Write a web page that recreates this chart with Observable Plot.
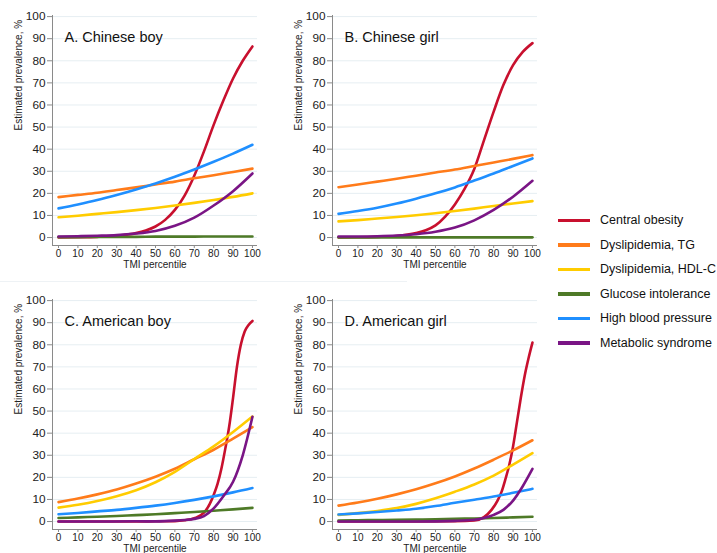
<!DOCTYPE html>
<html>
<head>
<meta charset="utf-8">
<script src="https://cdn.jsdelivr.net/npm/d3@7"></script>
<script src="https://cdn.jsdelivr.net/npm/@observablehq/plot@0.6"></script>
<style>
  body { margin: 0; background: #fff; font-family: "Liberation Sans", Arial, sans-serif; }
  #wrap { position: relative; width: 717px; height: 553px; overflow: hidden; }
  .panel { position: absolute; }
  #legend { position: absolute; left: 558px; top: 208px; }
  .lg { display: flex; align-items: center; height: 24.5px; font-size: 12.5px; color: #111; }
  .sw { width: 32px; height: 3.5px; margin-right: 10px; }
  #faint { position: absolute; left: 0; top: 281px; width: 407px; height: 1px; background: #eef2f5; }
</style>
</head>
<body>
<div id="wrap">
  <div id="faint"></div>
  <div id="pA" class="panel" style="left:0px;top:0px"></div>
  <div id="pB" class="panel" style="left:280px;top:0px"></div>
  <div id="pC" class="panel" style="left:0px;top:284px"></div>
  <div id="pD" class="panel" style="left:280px;top:284px"></div>
  <div id="legend"></div>
</div>
<script>
// ---- categories / labels ----
const seriesNames = ["Central obesity", "Dyslipidemia, TG", "Dyslipidemia, HDL-C", "Glucose intolerance", "High blood pressure", "Metabolic syndrome"];
const seriesColors = ["#c8102e", "#ff7b1a", "#ffcc00", "#4e7a27", "#1f8fff", "#7a1585"];
const panelTitles = ["A. Chinese boy", "B. Chinese girl", "C. American boy", "D. American girl"];
const xTicks = [0, 10, 20, 30, 40, 50, 60, 70, 80, 90, 100];
const yTicks = [0, 10, 20, 30, 40, 50, 60, 70, 80, 90, 100];
const pct = [0, 10, 20, 30, 40, 50, 60, 70, 80, 90, 100];

// ---- A. Chinese boy ----
const aObesityX = [0, 10, 20, 30, 40, 45, 50, 55, 60, 65, 70, 75, 80, 85, 90, 95, 100];
const aObesity  = [0, 0.1, 0.3, 0.8, 2, 3.2, 5, 8, 12.5, 19, 28, 39, 51, 62, 72, 80, 86.5];
const aTG       = [18.3, 19.3, 20.3, 21.5, 22.7, 24, 25.3, 26.8, 28.2, 29.7, 31.2];
const aHDL      = [9.2, 9.9, 10.7, 11.5, 12.4, 13.4, 14.5, 15.7, 17, 18.4, 20];
const aGlucose  = [0.2, 0.2, 0.3, 0.3, 0.3, 0.4, 0.4, 0.4, 0.5, 0.5, 0.5];
const aHBP      = [13.2, 15, 17, 19.3, 21.8, 24.5, 27.5, 30.8, 34.3, 38, 42];
const aMetS     = [0.5, 0.6, 0.8, 1.1, 1.8, 3, 5.3, 9, 14.5, 21, 29];

// ---- B. Chinese girl ----
const bObesityX = [0, 10, 20, 30, 40, 45, 50, 55, 60, 65, 70, 75, 80, 85, 90, 95, 100];
const bObesity  = [0, 0.1, 0.3, 0.7, 2, 3.3, 5.5, 9.5, 15, 22, 31, 44, 57, 69, 78, 84, 88];
const bTG       = [22.8, 24, 25.3, 26.6, 28, 29.4, 30.8, 32.4, 34, 35.6, 37.3];
const bHDL      = [7.3, 7.9, 8.6, 9.3, 10.1, 11, 12, 13.1, 14.3, 15.4, 16.5];
const bGlucose  = [0.1, 0.1, 0.1, 0.1, 0.1, 0.1, 0.1, 0.1, 0.1, 0.1, 0.1];
const bHBP      = [10.7, 12, 13.5, 15.4, 17.6, 20, 22.7, 25.8, 29, 32.4, 35.8];
const bMetS     = [0.5, 0.5, 0.6, 0.9, 1.5, 2.6, 4.5, 7.8, 12.5, 18.5, 25.7];

// ---- C. American boy ----
const cObesityX = [0, 20, 40, 50, 60, 65, 70, 75, 78, 80, 82, 84, 86, 88, 90, 92, 94, 96, 98, 100];
const cObesity  = [0, 0, 0, 0.1, 0.2, 0.6, 1.5, 4, 8, 12, 17, 24, 33, 43, 56, 70, 80, 86, 89, 90.8];
const cTG       = [8.8, 10.4, 12.3, 14.5, 17.2, 20.3, 23.9, 28.2, 32.5, 37.5, 42.7];
const cHDL      = [6.3, 7.6, 9.3, 11.5, 14.2, 17.8, 22.5, 28.3, 34, 40.5, 47.5];
const cGlucose  = [1.6, 1.9, 2.2, 2.5, 2.9, 3.3, 3.8, 4.3, 4.9, 5.5, 6.2];
const cHBP      = [3.3, 3.9, 4.6, 5.3, 6.2, 7.2, 8.4, 9.8, 11.4, 13.2, 15.2];
const cMetSX    = [0, 20, 40, 50, 60, 65, 70, 75, 80, 85, 90, 95, 100];
const cMetS     = [0, 0, 0.1, 0.1, 0.4, 0.7, 1.2, 2.5, 6, 11.5, 18, 30, 47.4];

// ---- D. American girl ----
const dObesityX = [0, 20, 40, 60, 70, 75, 79, 82, 84, 86, 88, 90, 92, 94, 96, 98, 100];
const dObesity  = [0, 0, 0, 0.1, 0.5, 2, 5.4, 9.5, 13.3, 19, 25.5, 34, 45, 56, 66, 74, 81];
const dTG       = [7.2, 8.6, 10.3, 12.3, 14.6, 17.3, 20.4, 24, 28, 32.2, 36.8];
const dHDL      = [3.0, 3.8, 4.8, 6.1, 8.0, 10.5, 13.5, 16.8, 20.8, 25.8, 31];
const dGlucose  = [0.5, 0.6, 0.7, 0.8, 0.9, 1, 1.2, 1.4, 1.6, 1.9, 2.2];
const dHBP      = [3.2, 3.7, 4.3, 5, 5.8, 7, 8.5, 9.9, 11.3, 13, 14.8];
const dMetSX    = [0, 20, 40, 60, 70, 75, 80, 85, 90, 95, 100];
const dMetS     = [0, 0, 0, 0.3, 0.8, 1.6, 3, 5.3, 9.5, 16, 23.8];

function pts(xs, ys, s) { return xs.map((x, i) => ({ x, y: ys[i], s })); }

const panels = [
  { id: "pA", title: panelTitles[0], series: [
    pts(aObesityX, aObesity, seriesNames[0]), pts(pct, aTG, seriesNames[1]), pts(pct, aHDL, seriesNames[2]),
    pts(pct, aGlucose, seriesNames[3]), pts(pct, aHBP, seriesNames[4]), pts(pct, aMetS, seriesNames[5])] },
  { id: "pB", title: panelTitles[1], series: [
    pts(bObesityX, bObesity, seriesNames[0]), pts(pct, bTG, seriesNames[1]), pts(pct, bHDL, seriesNames[2]),
    pts(pct, bGlucose, seriesNames[3]), pts(pct, bHBP, seriesNames[4]), pts(pct, bMetS, seriesNames[5])] },
  { id: "pC", title: panelTitles[2], series: [
    pts(cObesityX, cObesity, seriesNames[0]), pts(pct, cTG, seriesNames[1]), pts(pct, cHDL, seriesNames[2]),
    pts(pct, cGlucose, seriesNames[3]), pts(pct, cHBP, seriesNames[4]), pts(cMetSX, cMetS, seriesNames[5])] },
  { id: "pD", title: panelTitles[3], series: [
    pts(dObesityX, dObesity, seriesNames[0]), pts(pct, dTG, seriesNames[1]), pts(pct, dHDL, seriesNames[2]),
    pts(pct, dGlucose, seriesNames[3]), pts(pct, dHBP, seriesNames[4]), pts(dMetSX, dMetS, seriesNames[5])] }
];

const xDom = [-3.1, 102.6];
const yDom = [-3.6, 100.5];
const axisColor = "#8a8a8a";

for (const p of panels) {
  const chart = Plot.plot({
    width: 265, height: 280,
    marginLeft: 52, marginRight: 8, marginTop: 15, marginBottom: 35,
    x: { domain: xDom },
    y: { domain: yDom },
    color: { domain: seriesNames, range: seriesColors },
    style: { fontFamily: "'Liberation Sans', Arial, sans-serif", color: "#222", background: "transparent" },
    marks: [
      Plot.gridY(yTicks, { stroke: "#e6eef2", strokeOpacity: 1 }),
      Plot.ruleX([xDom[0]], { stroke: axisColor }),
      Plot.ruleY([yDom[0]], { stroke: axisColor }),
      Plot.axisX(xTicks, { tickSize: 3, stroke: axisColor, tickPadding: 1, fontSize: 10, label: null }),
      Plot.axisY(yTicks, { tickSize: 5, stroke: axisColor, tickPadding: 2, fontSize: 11.8, label: null }),
      ...p.series.map(d => Plot.line(d, { x: "x", y: "y", stroke: "s", strokeWidth: 2.6, curve: "monotone-x" })),
      Plot.text([p.title], { text: d => d, frameAnchor: "top-left", textAnchor: "start", lineAnchor: "middle", dx: 12, dy: 22, fontSize: 14.5, fill: "#111" }),
      Plot.text(["TMI percentile"], { text: d => d, frameAnchor: "bottom", lineAnchor: "middle", dy: 19, fontSize: 10, fill: "#222" }),
      Plot.text(["Estimated prevalence, %"], { text: d => d, frameAnchor: "left", rotate: -90, lineAnchor: "middle", dx: -34, fontSize: 10, fill: "#222" })
    ]
  });
  document.getElementById(p.id).appendChild(chart);
}

// legend
const lg = document.getElementById("legend");
seriesNames.forEach((name, i) => {
  const row = document.createElement("div");
  row.className = "lg";
  const sw = document.createElement("div");
  sw.className = "sw";
  sw.style.background = seriesColors[i];
  const t = document.createElement("span");
  t.textContent = name;
  row.appendChild(sw); row.appendChild(t);
  lg.appendChild(row);
});
</script>
</body>
</html>
